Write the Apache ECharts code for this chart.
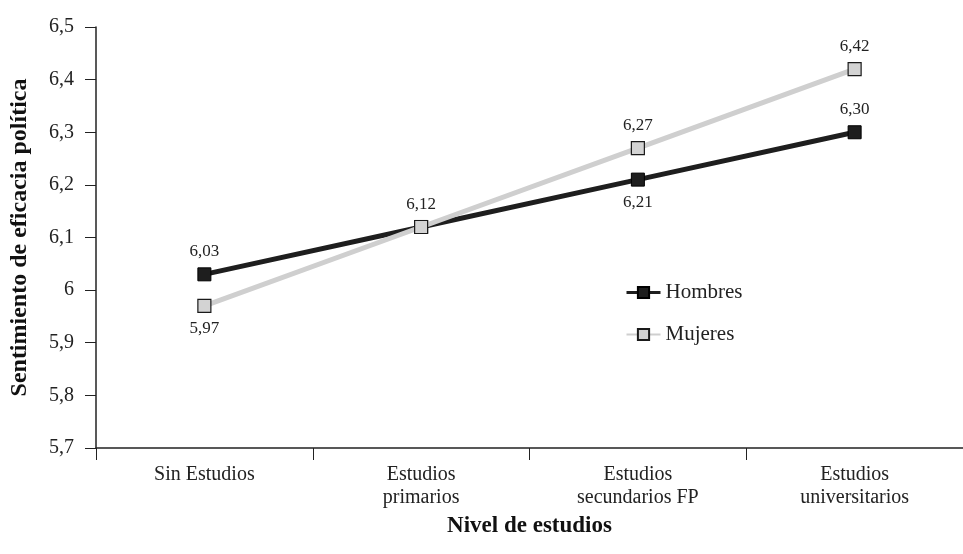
<!DOCTYPE html>
<html>
<head>
<meta charset="utf-8">
<script src="https://cdn.jsdelivr.net/npm/echarts@6/dist/echarts.min.js"></script>
<style>html,body{margin:0;padding:0;background:#fff}#c{width:963px;height:554px}</style>
</head>
<body>
<div id="c"></div>
<script>
const categories = ['Sin Estudios', 'Estudios\nprimarios', 'Estudios\nsecundarios FP', 'Estudios\nuniversitarios'];
const hombres = [6.03, 6.12, 6.21, 6.30];
const mujeres = [5.97, 6.12, 6.27, 6.42];
const hombresLabelPos = ['top', 'top', 'bottom', 'top'];
const mujeresLabelPos = ['bottom', 'top', 'top', 'top'];
const yTicks = {min: 5.7, max: 6.5, interval: 0.1};

const FONT = '"Liberation Serif", "Times New Roman", serif';
const fmt2 = v => (+v).toFixed(2).replace('.', ',');

const chart = echarts.init(document.getElementById('c'), null, {renderer: 'canvas'});
chart.setOption({
  animation: false,
  backgroundColor: '#fff',
  textStyle: {fontFamily: FONT, color: '#222'},
  grid: {left: 93, top: 27, width: 872, bottom: 106, containLabel: false},
  legend: {
    orient: 'vertical', left: 620, top: 277, itemGap: 21, itemWidth: 34, itemHeight: 14,
    textStyle: {fontFamily: FONT, fontSize: 21, color: '#222'},
    data: [
      {name: 'Hombres', lineStyle: {width: 3}},
      {name: 'Mujeres', lineStyle: {width: 2}}
    ]
  },
  xAxis: {
    type: 'category', data: categories, boundaryGap: true,
    name: 'Nivel de estudios', nameLocation: 'middle', nameGap: 67,
    nameTextStyle: {fontFamily: FONT, fontSize: 23, fontWeight: 'bold', color: '#111'},
    axisLine: {lineStyle: {color: '#222', width: 1.5}},
    axisTick: {show: true, length: 12, lineStyle: {color: '#222'}},
    axisLabel: {fontFamily: FONT, fontSize: 20, color: '#222', margin: 15, lineHeight: 23}
  },
  yAxis: {
    type: 'value', min: yTicks.min, max: yTicks.max, interval: yTicks.interval,
    name: 'Sentimiento de eficacia política', nameLocation: 'middle', nameGap: 64,
    nameTextStyle: {fontFamily: FONT, fontSize: 24, fontWeight: 'bold', color: '#111'},
    axisLine: {show: true, lineStyle: {color: '#222', width: 1.5}},
    axisTick: {show: true, length: 11, lineStyle: {color: '#222'}},
    splitLine: {show: false},
    axisLabel: {fontFamily: FONT, fontSize: 20, color: '#222', margin: 22,
      formatter: v => String(+(+v).toFixed(1)).replace('.', ',')}
  },
  series: [
    {
      name: 'Hombres', type: 'line', data: hombres.map((v, i) => ({value: v, label: {position: hombresLabelPos[i]}})),
      symbol: 'rect', symbolSize: 13,
      lineStyle: {color: '#1e1e1e', width: 5},
      itemStyle: {color: '#1e1e1e', borderColor: '#000', borderWidth: 1},
      label: {show: true, fontFamily: FONT, fontSize: 17, color: '#222', distance: 7, formatter: p => fmt2(p.value)},
      z: 2
    },
    {
      name: 'Mujeres', type: 'line', data: mujeres.map((v, i) => ({value: v, label: {position: mujeresLabelPos[i], show: i !== 1}})),
      symbol: 'rect', symbolSize: 13,
      lineStyle: {color: '#cfcfcf', width: 5},
      itemStyle: {color: '#d3d3d3', borderColor: '#1a1a1a', borderWidth: 1.2},
      label: {show: true, fontFamily: FONT, fontSize: 17, color: '#222', distance: 7, formatter: p => fmt2(p.value)},
      z: 3
    }
  ]
});
</script>
</body>
</html>
